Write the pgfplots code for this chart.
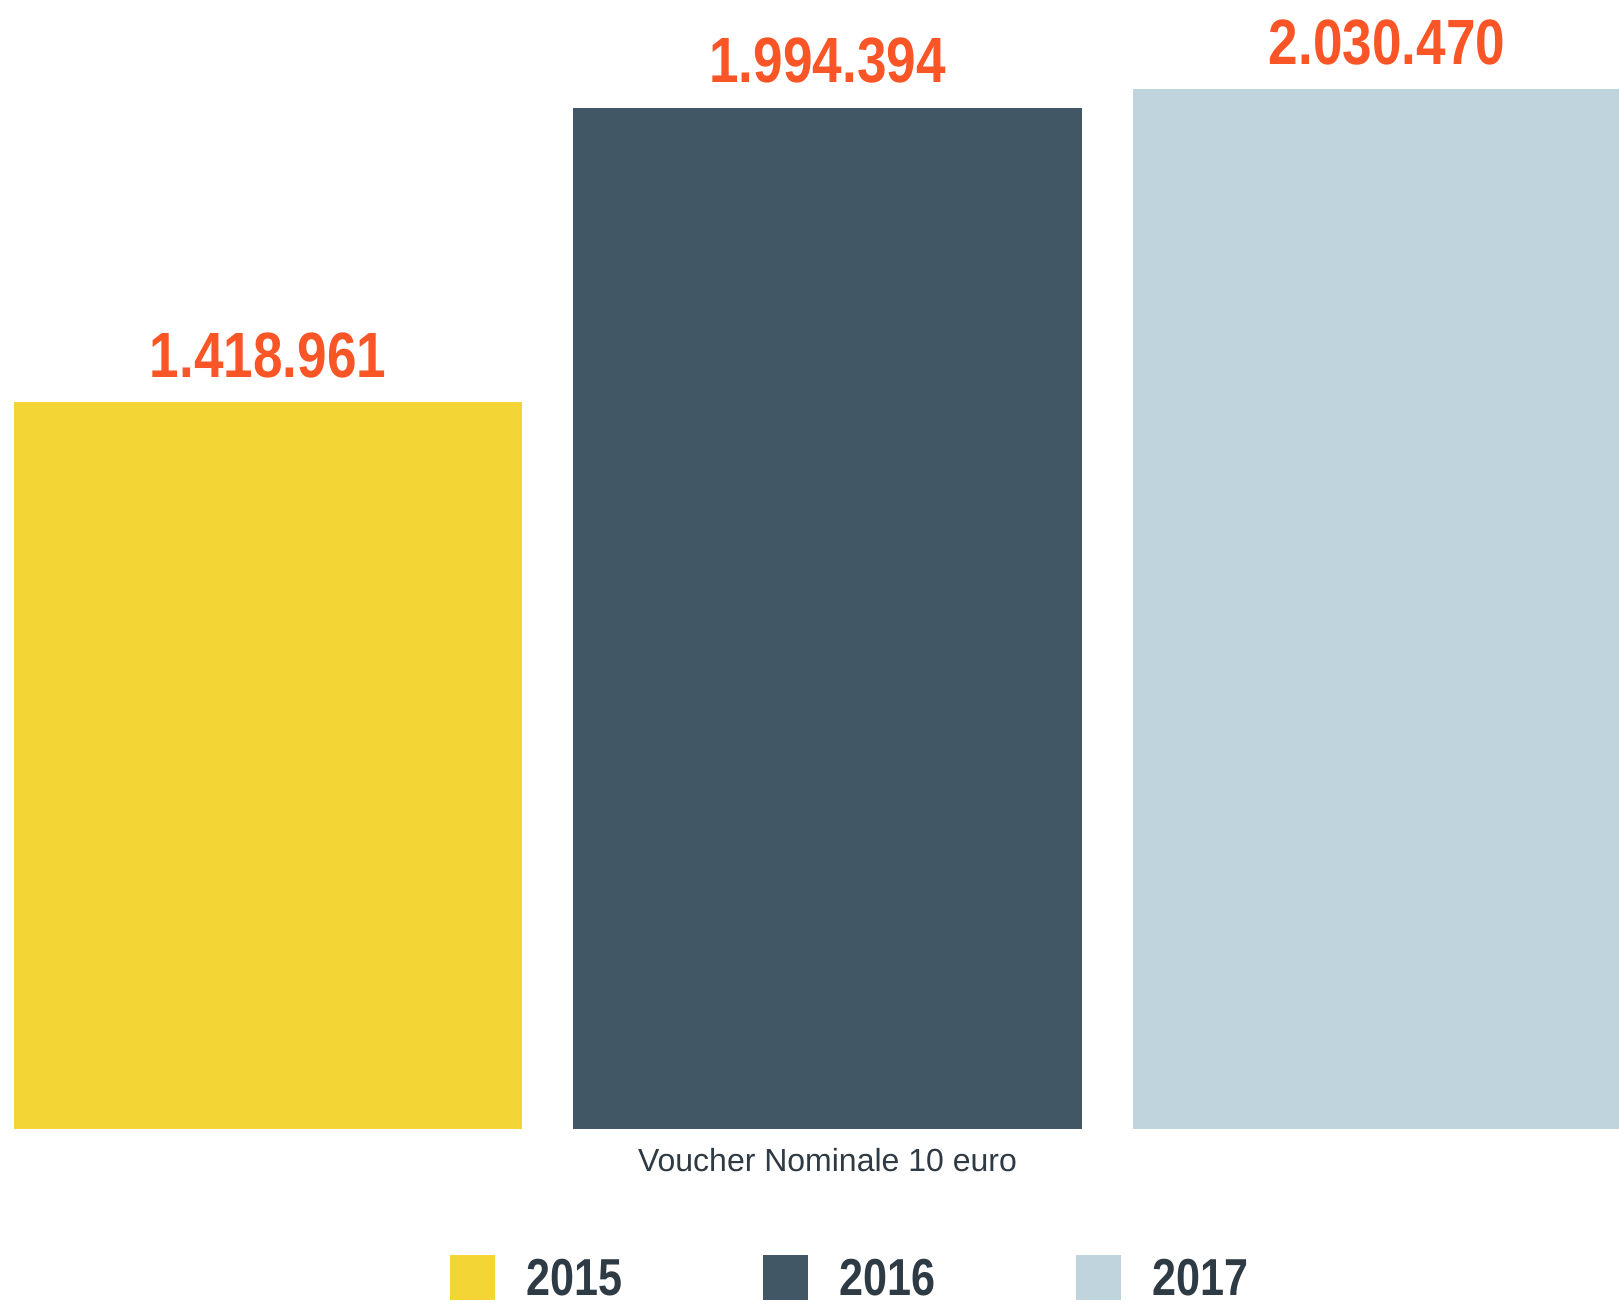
\documentclass[border=0pt]{standalone}
\usepackage{fontspec}
\setmainfont{Liberation Sans}
\newfontfamily\condfont[FakeStretch=0.83]{Liberation Sans}
\usepackage{pgfplots}
\pgfplotsset{compat=1.18}
\definecolor{cyellow}{HTML}{F3D536}
\definecolor{cdark}{HTML}{425766}
\definecolor{clight}{HTML}{C0D4DD}
\definecolor{corange}{HTML}{FA5526}
\definecolor{ctext}{HTML}{2E3A44}
\pgfplotsset{sqlegend/.style={legend image code/.code={\fill[##1, draw=none] (0pt,-22.5pt) rectangle (45pt,22.5pt);}}}
\begin{document}
\begin{tikzpicture}
\path[use as bounding box, clip] (0,0) rectangle (1619pt,1305pt);
\begin{axis}[
  at={(0,0)}, anchor=south west,
  scale only axis, width=1619pt, height=1305pt,
  xmin=-0.47900, xmax=2.41466,
  ymin=-342966, ymax=2204394,
  axis line style={draw=none},
  xtick=\empty, ytick=\empty,
  ybar, bar width=508pt, bar shift=0pt,
  clip=false,
  point meta=explicit symbolic,
  nodes near coords,
  every node near coord/.append style={font=\condfont\bfseries\fontsize{64}{64}\selectfont, text=corange, anchor=south, inner sep=0pt, yshift=24pt},
  every axis plot post/.append style={sqlegend},
  legend columns=3,
  legend style={draw=none, fill=none, inner sep=0pt, at={(0.27795,0.0383)}, anchor=north west,
    font=\condfont\bfseries\fontsize{52}{52}\selectfont, text=ctext,
    /tikz/every odd column/.append style={column sep=31pt},
    /tikz/every even column/.append style={column sep=141pt},
    nodes={inner sep=0pt}},
]
\addplot[fill=cyellow, draw=none] coordinates {(0,1418961) [1.418.961]};
\addplot[fill=cdark, draw=none] coordinates {(1,1994394) [1.994.394]};
\addplot[fill=clight, draw=none] coordinates {(2,2030470) [2.030.470]};
\legend{2015,2016,2017}
\node[anchor=north, inner sep=0pt, font=\fontsize{32}{32}\selectfont, text=ctext, yshift=-19pt] at (axis cs:1,0) {Voucher Nominale 10 euro};
\end{axis}
\end{tikzpicture}
\end{document}
